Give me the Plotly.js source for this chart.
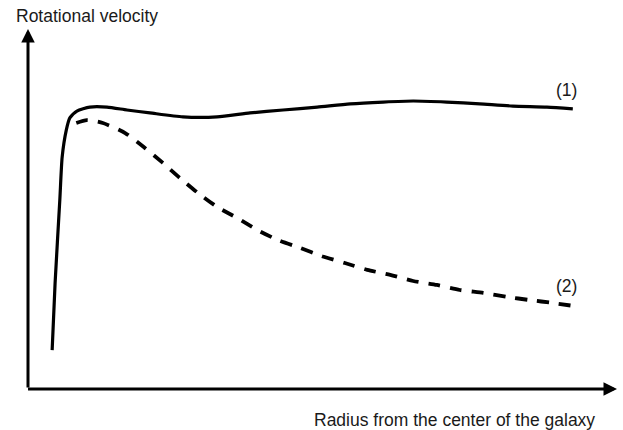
<!DOCTYPE html>
<html>
<head>
<meta charset="utf-8">
<script src="https://cdn.plot.ly/plotly-3.0.1.min.js"></script>
<style>html,body{margin:0;padding:0;background:#fff;}#chart{width:623px;height:430px;}</style>
</head>
<body>
<div id="chart"></div>
<script>
// Curve (1): observed rotational velocity (flat)
const radius1 = [4.1, 4.6, 5.4, 5.8, 6.5, 7.1, 8.3, 10.5, 13.4, 16.8, 20.7, 26.3, 32.1, 37.7, 43.3, 49.1, 54.7, 60.3, 65.4, 71.1, 76.7, 82.3, 88.1, 92.5];
const velocity1 = [10.8, 29.4, 52.5, 64.4, 71.9, 75.3, 77.2, 78.3, 78.3, 77.5, 76.7, 75.6, 75.6, 76.7, 77.5, 78.3, 79.2, 79.7, 80.0, 79.7, 79.2, 78.6, 78.3, 77.8];
// Curve (2): expected rotational velocity (declining)
const radius2 = [8.2, 10.0, 12.7, 16.5, 19.9, 22.9, 25.8, 28.9, 32.1, 35.5, 38.9, 42.4, 46.2, 49.9, 53.8, 57.6, 61.5, 65.4, 69.4, 73.3, 77.3, 81.3, 85.2, 89.1, 92.5];
const velocity2 = [73.9, 74.7, 73.9, 71.1, 66.9, 62.8, 58.6, 54.4, 50.6, 47.5, 44.2, 41.4, 39.2, 36.9, 35.0, 33.1, 31.7, 30.0, 28.9, 27.5, 26.7, 25.6, 24.7, 23.9, 23.1];
const curveLabels = ["(1)", "(2)"];
const yTitle = "Rotational velocity";
const xTitle = "Radius from the center of the galaxy";

const txtFont = {family: "Liberation Sans, Arial, sans-serif", size: 17.5, color: "#1a1a1a"};

const traces = [
  {x: radius1, y: velocity1, mode: "lines", line: {color: "#000", width: 3.2, shape: "spline", smoothing: 0.6}, hoverinfo: "skip"},
  {x: radius2, y: velocity2, mode: "lines", line: {color: "#000", width: 3.8, shape: "spline", smoothing: 0.6, dash: "12px,10px"}, hoverinfo: "skip"}
];

const axisCommon = {range: [0, 100], showgrid: false, zeroline: false, showticklabels: false, ticks: "", showline: false, fixedrange: true};

const layout = {
  width: 623, height: 430,
  margin: {l: 28, r: 6, t: 29, b: 41},
  paper_bgcolor: "#fff", plot_bgcolor: "#fff",
  showlegend: false,
  xaxis: axisCommon,
  yaxis: axisCommon,
  annotations: [
    // y axis with arrow
    {xref: "x", yref: "y", axref: "x", ayref: "y", x: 0, y: 100, ax: 0, ay: 0, text: "", showarrow: true, arrowhead: 2, arrowsize: 0.9, arrowwidth: 3, arrowcolor: "#000", standoff: 0, startstandoff: 0},
    // x axis with arrow
    {xref: "x", yref: "y", axref: "x", ayref: "y", x: 100, y: 0, ax: -0.25, ay: 0, text: "", showarrow: true, arrowhead: 2, arrowsize: 0.9, arrowwidth: 3, arrowcolor: "#000", standoff: 0, startstandoff: 0},
    {xref: "paper", yref: "paper", x: -0.024, y: 1.036, xanchor: "left", yanchor: "middle", text: yTitle, showarrow: false, font: txtFont},
    {xref: "paper", yref: "paper", x: 0.966, y: -0.086, xanchor: "right", yanchor: "middle", text: xTitle, showarrow: false, font: txtFont},
    {xref: "x", yref: "y", x: radius1[radius1.length - 1] - 1, y: 83, xanchor: "center", yanchor: "middle", text: curveLabels[0], showarrow: false, font: txtFont},
    {xref: "x", yref: "y", x: radius2[radius2.length - 1] - 1, y: 28.6, xanchor: "center", yanchor: "middle", text: curveLabels[1], showarrow: false, font: txtFont}
  ]
};

Plotly.newPlot("chart", traces, layout, {displayModeBar: false, staticPlot: true});
</script>
</body>
</html>
